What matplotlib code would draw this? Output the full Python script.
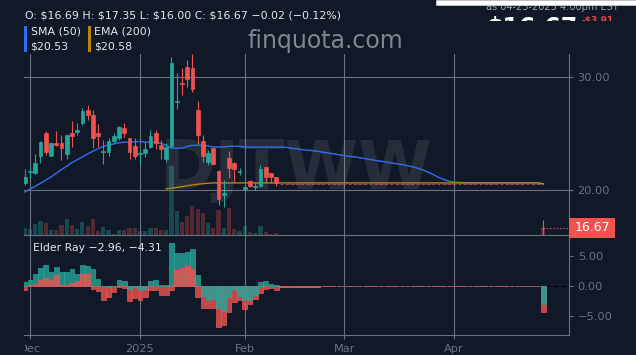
import numpy as np
import pandas as pd
import matplotlib
matplotlib.use("Agg")
import matplotlib.pyplot as plt
from matplotlib.patches import Rectangle
from matplotlib.ticker import FuncFormatter
from matplotlib.colors import to_rgba
from matplotlib.transforms import blended_transform_factory, Bbox

BG = "#111827"
GRID = "#6b7280"
UP = "#26a69a"
DOWN = "#ef5350"
SMA_C = "#2f6fef"
EMA_C = "#b8860b"

# ── 数据 ────────────────────────────────────────────────────
holidays = ["2024-12-25", "2025-01-01", "2025-01-09", "2025-01-20", "2025-02-17", "2025-04-18"]
days = pd.bdate_range("2024-11-29", "2025-04-25")
days = days[~days.isin(pd.to_datetime(holidays))]

opens = [20.62, 21.62, 21.50, 23.04, 25.04, 23.06, 24.16, 24.16, 23.19, 25.04,
         25.19, 25.98, 27.11, 26.66, 25.04, 23.40, 23.42, 24.39, 24.60, 25.49,
         24.60, 23.92, 23.22, 23.33, 23.81, 25.04, 24.01, 22.74, 23.95, 27.80,
         29.52, 30.88, 30.85, 27.11, 24.36, 22.48, 23.72, 21.71, 19.58, 22.83,
         22.44, 21.60, 20.12, 20.79, 20.28, 20.38, 22.04, 21.50, 21.15] + [20.55] * 50 + [16.69]
highs = [21.86, 21.95, 23.19, 24.36, 25.25, 24.25, 25.25, 24.89, 24.95, 26.13,
         25.93, 27.26, 27.55, 27.11, 25.84, 24.45, 24.60, 25.04, 25.66, 25.93,
         24.65, 24.60, 23.50, 24.25, 25.34, 25.31, 24.45, 24.16, 31.82, 30.35,
         30.85, 31.53, 32.10, 27.90, 24.89, 23.57, 23.86, 21.80, 20.91, 23.48,
         22.53, 22.00, 20.45, 20.91, 20.76, 22.24, 22.10, 21.56, 21.20] + [20.55] * 50 + [17.35]
lows = [20.47, 21.12, 21.45, 22.39, 23.12, 23.00, 23.95, 22.68, 22.74, 23.86,
        24.89, 25.78, 26.22, 23.77, 23.86, 22.30, 23.04, 24.16, 24.45, 24.74,
        22.74, 22.74, 22.20, 22.97, 23.75, 23.65, 22.77, 22.53, 23.86, 27.20,
        28.43, 29.17, 28.67, 24.07, 22.53, 22.24, 22.24, 18.70, 18.55, 21.06,
        20.67, 21.35, 20.05, 20.32, 20.03, 20.32, 20.76, 20.67, 20.41] + [20.55] * 50 + [16.00]
closes = [21.20, 21.68, 22.39, 24.25, 23.36, 24.16, 24.00, 23.72, 24.89, 24.83,
          25.34, 27.02, 26.66, 24.65, 24.80, 23.45, 24.36, 24.81, 25.58, 25.04,
          23.36, 23.06, 23.30, 23.65, 24.81, 24.16, 23.65, 23.86, 31.24, 27.92,
          29.38, 29.85, 28.94, 24.89, 23.06, 23.27, 22.33, 19.20, 19.73, 22.00,
          21.88, 21.68, 20.32, 20.38, 20.35, 21.86, 21.20, 21.15, 20.62] + [20.55] * 50 + [16.67]
volumes = [365, 300, 550, 700, 615, 250, 250, 500, 800, 500,
           300, 635, 450, 800, 200, 385, 250, 50, 250, 250,
           365, 365, 200, 200, 365, 365, 250, 250, 3450, 1200,
           665, 930, 1450, 1300, 1090, 600, 365, 1250, 365, 1365,
           300, 185, 450, 150, 115, 450, 150, 65, 100] + [0] * 50 + [350]

sma50 = [19.85, 20.10, 20.35, 20.62, 20.90, 21.17, 21.50, 21.83, 22.12, 22.45,
         22.70, 22.94, 23.22, 23.45, 23.68, 23.88, 24.01, 24.10, 24.20, 24.25,
         24.26, 24.28, 24.32, 24.26, 24.24, 24.21, 24.16, 23.97, 23.74, 23.72,
         23.72, 23.88, 23.97, 23.98, 24.00, 23.92, 23.84, 23.82, 23.84, 23.88,
         23.90, 23.90, 23.83, 23.82, 23.82, 23.82, 23.82, 23.82, 23.82, 23.82,
         23.80, 23.70, 23.68, 23.58, 23.55, 23.50, 23.44, 23.36, 23.29, 23.22,
         23.14, 23.06, 23.00, 22.95, 22.88, 22.80, 22.72, 22.64, 22.57, 22.50,
         22.42, 22.35, 22.27, 22.18, 22.08, 21.95, 21.80, 21.60, 21.38, 21.15,
         20.95, 20.80, 20.72, 20.69, 20.68, 20.67, 20.67] + [20.66] * 12 + [20.53]
ema200 = [np.nan] * 27 + [20.12, 20.18, 20.25, 20.32, 20.40, 20.47, 20.53, 20.58, 20.62] \
         + [20.65] * 63 + [20.58]

bull_power = [0.61, 1.00, 2.00, 2.94, 3.50, 2.28, 3.11, 2.39, 2.40, 2.78,
              1.94, 3.50, 3.33, 2.78, 1.11, 0.00, -0.22, -0.06, 1.00, 0.83,
              -0.53, -0.20, -0.60, -0.50, 0.89, 1.00, 0.10, 0.20, 7.22, 5.50,
              5.44, 5.70, 6.20, 1.90, -1.60, -2.40, -2.10, -3.70, -4.10, -1.86,
              -0.74, -1.67, -2.30, -2.40, -1.50, 0.70, 0.80, 0.33, 0.20,
              -0.25, -0.22, -0.19, -0.16, -0.14, -0.12, -0.10, -0.09, -0.08, -0.07,
              -0.06, -0.05, -0.04, -0.04, -0.03, -0.03, -0.02, -0.02, -0.02, -0.01] + [0.0] * 30 + [-2.96]
bear_power = [-0.67, 0.17, 0.26, 0.97, 1.37, 1.03, 1.81, 0.18, 0.20, 0.51,
              0.90, 2.02, 2.00, -0.56, -0.87, -2.40, -1.78, -0.94, -0.21, -0.36,
              -2.44, -2.06, -2.33, -1.78, -0.70, -0.66, -1.50, -1.45, -0.74, 2.60,
              3.00, 3.30, 2.90, -1.90, -3.60, -3.70, -3.60, -6.90, -6.50, -4.28,
              -2.60, -2.30, -3.80, -3.00, -2.20, -1.20, -0.50, -0.39, -0.60,
              -0.25, -0.22, -0.19, -0.16, -0.14, -0.12, -0.10, -0.09, -0.08, -0.07,
              -0.06, -0.05, -0.04, -0.04, -0.03, -0.03, -0.02, -0.02, -0.02, -0.01] + [0.0] * 30 + [-4.31]

# ── 画布 ────────────────────────────────────────────────────
W, H = 636, 355
fig = plt.figure(figsize=(W / 100, H / 100), dpi=100, facecolor=BG)


def fx(x):
    return x / W


def fy(y):
    return 1 - y / H


def esc(s):
    return s.replace("$", r"\$")


ax = fig.add_axes([fx(24), fy(235), 545.3 / W, 181 / H])
ax2 = fig.add_axes([fx(24), fy(335.3), 545.3 / W, 100.3 / H], sharex=ax)
vax = ax.twinx()
ax.set_zorder(2)
ax.patch.set_visible(False)
vax.set_zorder(1)
ax2.set_facecolor(BG)

xs = np.arange(len(days))
o, h, l, c = map(np.array, (opens, highs, lows, closes))
cols = np.where(c > o, UP, DOWN)

# 成交量
vcols = [to_rgba(UP, 0.35) if col == UP else to_rgba(DOWN, 0.3) for col in cols]
vax.bar(xs, volumes, width=0.8, color=vcols, linewidth=0)
vax.set_ylim(0, max(volumes) * 181 / 69)
vax.axis("off")

# 蜡烛 + 均线
ax.plot(xs, sma50, color=SMA_C, linewidth=1.0, zorder=3)
ax.plot(xs, ema200, color=EMA_C, linewidth=1.0, zorder=3)
ax.vlines(xs, l, h, colors=cols, linewidth=0.8, zorder=4)
ax.bar(xs, np.abs(c - o), bottom=np.minimum(o, c), width=0.72, color=cols,
       edgecolor=cols, linewidth=0.5, zorder=5)
ax.hlines(closes[-1], xs[-1], 103.96, colors=DOWN, linestyles=":", linewidth=0.9, zorder=5)

ax.text(0.5, 0.36, "DJTWW", transform=ax.transAxes, ha="center", va="center",
        fontsize=48, fontweight="bold", color="white", alpha=0.09, zorder=1)

ax.set_xlim(-0.15, 103.96)
ax.set_ylim(16.04, 32.06)
ax.set_yticks([20, 30])

# 最新价标签
trans = blended_transform_factory(ax.transAxes, ax.transData)
ax.add_patch(Rectangle((1.0, closes[-1] - 0.91), 46 / 545.3, 1.82, transform=trans,
                       facecolor=DOWN, edgecolor="none", clip_on=False, zorder=6))
ax.text(1.0 + 5 / 545.3, closes[-1], f"{closes[-1]:.2f}", transform=trans, ha="left",
        va="center", color="white", fontsize=9, clip_on=False, zorder=7)

# Elder Ray
bull = np.array(bull_power)
bear = np.array(bear_power)
bull_long = np.abs(bull) >= np.abs(bear)
long_vals = np.where(bull_long, bull, bear)
short_vals = np.where(bull_long, bear, bull)
for vals, is_bull in ((long_vals, bull_long), (short_vals, ~bull_long)):
    base = [UP if b else DOWN for b in is_bull]
    ax2.bar(xs, vals, width=0.9, color=[to_rgba(b, 0.8) for b in base],
            edgecolor=base, linewidth=0.5, zorder=3)
ax2.axhline(0, color="black", linestyle=(0, (4, 3)), linewidth=0.8, zorder=2)
ax2.set_ylim(-8.22, 8.5)
ax2.set_yticks([-5, 0, 5])
ax2.text(0.016, 0.84, f"Elder Ray {bull[-1]:.2f}, {bear[-1]:.2f}".replace("-", "\u2212"),
         transform=ax2.transAxes, color="#e5e7eb", fontsize=7.8, ha="left", va="baseline")

# 坐标轴样式
month_starts = [i for i in range(1, len(days)) if days[i].month != days[i - 1].month]
month_labels = ["2025" if days[i].month == 1 else days[i].strftime("%b") for i in month_starts]
fmt = FuncFormatter(lambda v, p: f"{v:.2f}".replace("-", "\u2212"))
for a in (ax, ax2):
    a.set_xticks(month_starts)
    a.yaxis.tick_right()
    a.yaxis.set_major_formatter(fmt)
    a.tick_params(axis="y", colors=GRID, labelcolor=GRID, length=3, width=0.8, pad=3, labelsize=8.2)
    a.tick_params(axis="x", colors=GRID, labelcolor=GRID, length=3, width=0.8, pad=3.5, labelsize=8.2)
    a.grid(True, axis="x", color=GRID, linewidth=0.8)
    a.set_axisbelow(True)
    for s in ("top", "left"):
        a.spines[s].set_visible(False)
    for s in ("right", "bottom"):
        a.spines[s].set_color(GRID)
        a.spines[s].set_linewidth(0.8)
ax.grid(True, axis="y", color=GRID, linewidth=0.8)
ax.tick_params(axis="x", labelbottom=False, length=0)
ax2.set_xticklabels(month_labels)
first = ax2.get_xticklabels()[0]
first.set_clip_on(True)
first.set_clip_box(Bbox.from_extents(24.5, 0, W, H))

# ── 顶部文字 ────────────────────────────────────────────────
fig.text(fx(25), fy(18.3), esc("O: $16.69 H: $17.35 L: $16.00 C: $16.67 \u22120.02 (\u22120.12%)"),
         color="#e5e7eb", fontsize=7.9, ha="left", va="baseline")
for x0, col, name, val in ((24, SMA_C, "SMA (50)", sma50[-1]), (88, EMA_C, "EMA (200)", ema200[-1])):
    fig.add_artist(Rectangle((fx(x0), fy(51.7)), 2.5 / W, 25.7 / H, transform=fig.transFigure,
                             facecolor=col, edgecolor="none"))
    fig.text(fx(x0 + 6.5), fy(35), name, color="#e5e7eb", fontsize=7.9, ha="left", va="baseline")
    fig.text(fx(x0 + 6.5), fy(49.5), esc(f"${val:.2f}"), color="#e5e7eb", fontsize=7.9,
             ha="left", va="baseline")
fig.text(fx(325), fy(41), "finquota.com", color="#80868f", fontsize=17, ha="center", va="center")

# 右上角被遮挡的报价
fig.text(fx(619), fy(9.5), "as 04-25-2025 4:00pm EST", color="#9ca3af", fontsize=7,
         ha="right", va="baseline")
fig.text(fx(486), fy(35), esc("$16.67"), color="white", fontsize=17, fontweight="bold",
         ha="left", va="baseline")
fig.text(fx(581), fy(23), esc("-$3.91"), color="#ef4444", fontsize=6.5, fontweight="bold",
         ha="left", va="baseline")
fig.add_artist(Rectangle((fx(440), fy(53.5)), 196 / W, 32.8 / H, transform=fig.transFigure,
                         facecolor=BG, edgecolor="none", zorder=10))
fig.add_artist(Rectangle((fx(436), fy(5)), 200 / W, 5 / H, transform=fig.transFigure,
                         facecolor="white", edgecolor="#d1d5db", linewidth=0.5, zorder=11))

fig.savefig("out.png", dpi=100, facecolor=BG)
